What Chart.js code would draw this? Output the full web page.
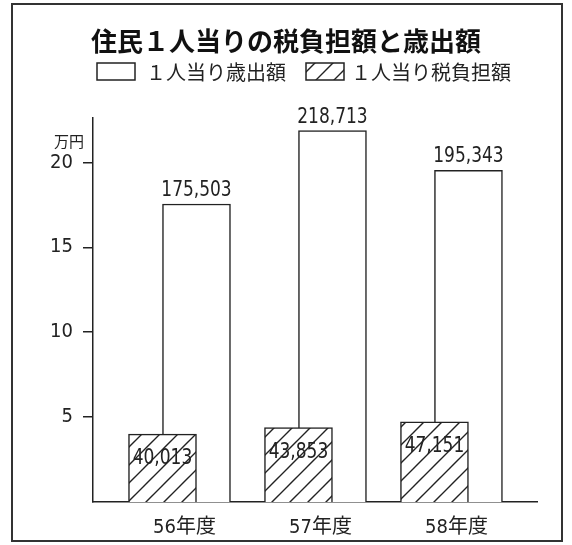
<!DOCTYPE html>
<html><head><meta charset="utf-8">
<script src="https://cdn.jsdelivr.net/npm/chart.js@4.4.0/dist/chart.umd.min.js"></script>
<style>html,body{margin:0;padding:0;background:#fff;}#wrap{width:572px;height:545px;position:relative;}canvas{display:block;}</style>
</head><body><div id="wrap"><canvas id="c" width="572" height="545"></canvas></div>
<script>
// ---- data (values in 円) ----
const categories = ['56年度', '57年度', '58年度'];
const spendingPerCapita = [175503, 218713, 195343];   // １人当り歳出額
const taxPerCapita = [40013, 43853, 47151];           // １人当り税負担額
const yTickValues = [5, 10, 15, 20];                  // 万円
const seriesNames = ['１人当り歳出額', '１人当り税負担額'];
const titleText = '住民１人当りの税負担額と歳出額';
const unitText = '万円';

const NUM_FONT = "'DejaVu Sans Condensed', 'Noto Sans', sans-serif";
const CJK_FONT = "'Noto Sans CJK JP', 'Noto Sans', sans-serif";
const MIX_FONT = "'DejaVu Sans Condensed', 'Noto Sans CJK JP', sans-serif";
const INK = '#222';

function makeHatch() {
  const s = 18;
  const c = document.createElement('canvas'); c.width = s; c.height = s;
  const g = c.getContext('2d');
  g.fillStyle = '#fff'; g.fillRect(0, 0, s, s);
  g.strokeStyle = INK; g.lineWidth = 1.4;
  g.beginPath();
  g.moveTo(-2, s + 2); g.lineTo(s + 2, -2);
  g.moveTo(-2, 2); g.lineTo(2, -2);
  g.moveTo(s - 2, s + 2); g.lineTo(s + 2, s - 2);
  g.stroke();
  return g.createPattern(c, 'repeat');
}
const hatch = makeHatch();
const toMan = v => v / 10000;
const fmt = v => v.toLocaleString('en-US');

function narrowText(ctx, text, x, y, sx) {
  ctx.save();
  ctx.translate(x, y);
  ctx.scale(sx, 1);
  ctx.fillText(text, 0, 0);
  ctx.restore();
}

const decor = {
  id: 'decor',
  beforeDraw(chart) {
    const ctx = chart.ctx;
    ctx.save(); ctx.fillStyle = '#fff'; ctx.fillRect(0, 0, chart.width, chart.height); ctx.restore();
  },
  afterDraw(chart) {
    const ctx = chart.ctx;
    ctx.save();
    // frame
    ctx.strokeStyle = '#333'; ctx.lineWidth = 2;
    ctx.strokeRect(12, 4, 550, 537);
    // legend (white series first)
    const order = [1, 0];
    const boxX = [97, 306], textX = [146, 351];
    order.forEach((di, k) => {
      const ds = chart.data.datasets[di];
      ctx.fillStyle = ds.backgroundColor;
      ctx.fillRect(boxX[k], 63, 38, 17);
      ctx.strokeStyle = INK; ctx.lineWidth = 1.5;
      ctx.strokeRect(boxX[k], 63, 38, 17);
      ctx.fillStyle = INK;
      ctx.font = '20px ' + CJK_FONT;
      ctx.textAlign = 'left'; ctx.textBaseline = 'middle';
      ctx.fillText(ds.label, textX[k], 72);
    });
    // unit
    const y = chart.scales.y;
    ctx.font = '15px ' + CJK_FONT;
    ctx.textAlign = 'right'; ctx.textBaseline = 'middle';
    ctx.fillStyle = INK;
    ctx.fillText(unitText, 84, y.getPixelForValue(20) - 21);
    // value labels
    ctx.font = '22px ' + NUM_FONT;
    ctx.textAlign = 'center'; ctx.textBaseline = 'alphabetic';
    chart.getDatasetMeta(1).data.forEach((bar, i) => {
      narrowText(ctx, fmt(spendingPerCapita[i]), bar.x, bar.y - 8, 0.86);
    });
    chart.getDatasetMeta(0).data.forEach((bar, i) => {
      narrowText(ctx, fmt(taxPerCapita[i]), bar.x, bar.y + 30, 0.86);
    });
    ctx.restore();
  }
};

new Chart(document.getElementById('c'), {
  type: 'bar',
  data: {
    datasets: [
      {
        label: seriesNames[1],
        data: taxPerCapita.map((v, i) => ({ x: i, y: toMan(v) })),
        backgroundColor: hatch, borderColor: INK, borderWidth: 1.5,
        categoryPercentage: 0.5, barPercentage: 2.0
      },
      {
        label: seriesNames[0],
        data: spendingPerCapita.map((v, i) => ({ x: i, y: toMan(v) })),
        backgroundColor: '#fff', borderColor: INK, borderWidth: 1.5,
        categoryPercentage: 0.5, barPercentage: 2.0
      }
    ]
  },
  options: {
    responsive: false,
    animation: false,
    layout: { padding: { left: 35, right: 35, top: 0, bottom: 0 } },
    plugins: {
      legend: { display: false },
      tooltip: { enabled: false },
      title: {
        display: true, text: titleText, color: '#111',
        font: { family: CJK_FONT, size: 26, weight: 'bold', lineHeight: 1.2 },
        padding: { top: 26, bottom: 61 }
      }
    },
    scales: {
      x: {
        type: 'linear', min: -0.636, max: 2.629, offset: false,
        afterBuildTicks: ax => { ax.ticks = categories.map((_, i) => ({ value: i })); },
        afterFit: s => { s.height = 43; },
        grid: { display: false, offset: false },
        border: { display: true, color: INK, width: 1.5 },
        ticks: {
          autoSkip: false, maxRotation: 0, labelOffset: 5, padding: 6, color: INK,
          font: { family: MIX_FONT, size: 20 },
          callback: v => categories[v]
        }
      },
      y: {
        min: 0, max: 22.6,
        afterBuildTicks: ax => { ax.ticks = yTickValues.map(v => ({ value: v })); },
        afterFit: s => { s.width = 58; },
        grid: { drawOnChartArea: false, drawTicks: true, tickLength: 10, color: INK, lineWidth: 1.5 },
        border: { display: true, color: INK, width: 1.5 },
        ticks: { padding: 10, color: INK, font: { family: NUM_FONT, size: 20 } }
      }
    }
  },
  plugins: [decor]
});
</script></body></html>
